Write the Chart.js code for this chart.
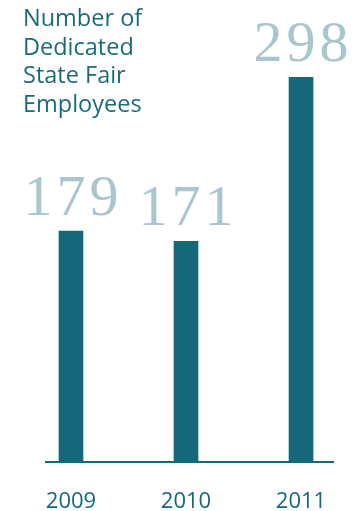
<!DOCTYPE html>
<html>
<head>
<meta charset="utf-8">
<script src="https://cdn.jsdelivr.net/npm/chart.js@4/dist/chart.umd.min.js"></script>
<style>
  html, body { margin: 0; padding: 0; background: #fff; }
  #wrap { position: relative; width: 359px; height: 511px; }
  #title {
    position: absolute; left: 23px; top: 3px;
    font: 23.5px "Open Sans", sans-serif; line-height: 28.5px;
    color: #1a6b7a;
  }
</style>
</head>
<body>
<div id="wrap">
  <canvas id="c" width="359" height="511"></canvas>
  <div id="title">Number of<br>Dedicated<br>State Fair<br>Employees</div>
</div>
<script>
const years = [2009, 2010, 2011];
const employees = [179, 171, 298];
const yearLabels = ['2009', '2010', '2011'];

const TEAL = '#13697a';
const LABEL_GREY = '#a9c5ce';

// big light numbers above each bar
const valueLabels = {
  id: 'valueLabels',
  afterDatasetsDraw(chart) {
    const ctx = chart.ctx;
    const meta = chart.getDatasetMeta(0);
    ctx.save();
    ctx.font = '58px "Liberation Serif", serif';
    ctx.fillStyle = LABEL_GREY;
    ctx.textAlign = 'center';
    ctx.textBaseline = 'alphabetic';
    if ('letterSpacing' in ctx) ctx.letterSpacing = '4px';
    meta.data.forEach((bar, i) => {
      ctx.fillText(String(employees[i]), bar.x + 2, bar.y - 16);
    });
    ctx.restore();
  }
};

new Chart(document.getElementById('c'), {
  type: 'bar',
  data: {
    datasets: [{
      data: years.map((y, i) => ({ x: y, y: employees[i] })),
      backgroundColor: TEAL,
      barThickness: 24,
    }]
  },
  options: {
    responsive: false,
    animation: false,
    layout: { padding: { left: 46, right: 26, top: 0, bottom: 0 } },
    plugins: { legend: { display: false }, tooltip: { enabled: false } },
    scales: {
      x: {
        type: 'linear',
        min: 2008.7826,
        max: 2011.278,
        offset: false,
        grid: { display: false, drawTicks: false },
        border: { display: true, color: TEAL, width: 2 },
        afterBuildTicks: (s) => { s.ticks = years.map((v) => ({ value: v })); },
        afterFit: (s) => { s.height = 49; },
        ticks: {
          color: TEAL,
          padding: 27,
          font: { family: 'Open Sans', size: 22 },
          callback: (v) => yearLabels[years.indexOf(v)],
        },
      },
      y: { display: false, min: 0, max: 358 },
    },
  },
  plugins: [valueLabels],
});
</script>
</body>
</html>
